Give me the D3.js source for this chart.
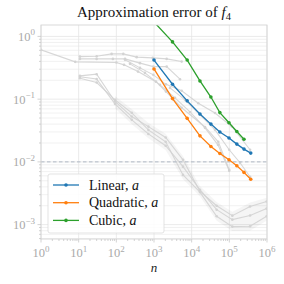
<!doctype html>
<html lang="en">
<head>
<meta charset="utf-8">
<title>Approximation error of f4</title>
<script src="https://cdn.jsdelivr.net/npm/d3@7"></script>
<style>
  body { margin: 0; background: #fff; }
  svg { display: block; font-family: "Liberation Serif", "DejaVu Serif", serif; }
  .tick-label { fill: #aaaaaa; font-size: 12.5px; }
</style>
</head>
<body>
<svg width="284" height="284"></svg>
<script>
// colored series
var nLin = [1000, 3100, 7600, 16600, 32400, 56000, 98000, 158000, 245000, 370000];
var errLinear = [0.42, 0.173, 0.094, 0.058, 0.040, 0.030, 0.024, 0.0192, 0.016, 0.0138];
var errQuadratic = [0.303, 0.102, 0.0494, 0.026, 0.0176, 0.0136, 0.0108, 0.0087, 0.0068, 0.0053];
var nCub = [1000, 3100, 7600, 16600, 32400, 56000, 98000, 158000, 245000];
var errCubic = [1.7, 0.817, 0.42, 0.195, 0.108, 0.061, 0.042, 0.0305, 0.023];

// grey background runs
var nG1 = [1, 8.1, 100, 160, 376, 1130, 2080, 5430, 22600, 50900, 99300];
var errG1 = [0.61, 0.393, 0.383, 0.352, 0.275, 0.19, 0.132, 0.073, 0.036, 0.0209, 0.0075];
var nG2 = [10.8, 30, 75, 153, 347, 923, 2170, 5430];
var errG2 = [0.477, 0.484, 0.526, 0.526, 0.467, 0.455, 0.438, 0.397];
var nG3 = [10.8, 30, 81, 170, 425, 960, 2170, 4900];
var errG3 = [0.438, 0.438, 0.438, 0.438, 0.375, 0.33, 0.33, 0.208];
var nG4 = [170, 425, 960, 2080, 5430, 15000, 41600, 116000, 355000];
var errG4 = [0.423, 0.315, 0.244, 0.172, 0.136, 0.0862, 0.060, 0.0367, 0.0156];
var nG5 = [230, 576, 1440, 3610, 9020, 22600, 50000, 99300];
var errG5 = [0.365, 0.262, 0.169, 0.105, 0.0625, 0.0349, 0.0187, 0.0072];
var nG6 = [2660, 6650, 16600, 41600, 99300, 192000, 355000];
var errG6 = [0.151, 0.0975, 0.0563, 0.0324, 0.0156, 0.0097, 0.0058];

var nLow = [10.8, 30, 92, 257, 708, 2040, 5890, 16600, 46100, 120000, 355000, 980000];
var errL1 = [0.235, 0.25, 0.0917, 0.0528, 0.0365, 0.0245, 0.0108, 0.00338, 0.002, 0.00139, 0.00195, 0.00234];
var errL2 = [0.216, 0.184, 0.0975, 0.0605, 0.0324, 0.0209, 0.0062, 0.0033, 0.00136, 0.00093, 0.00094, 0.00136];
var errL3 = [0.227, 0.209, 0.0842, 0.0468, 0.0279, 0.0181, 0.0084, 0.0036, 0.00173, 0.0012, 0.0014, 0.0018];

var threshold = 0.01;
var xDecades = [0, 1, 2, 3, 4, 5, 6];
var yDecades = [-3, -2, -1, 0];
var legendLabels = ["Linear", "Quadratic", "Cubic"];
var colors = ["#1f77b4", "#ff7f0e", "#2ca02c"];

var margin = { top: 25, right: 17, bottom: 45, left: 41 };
var svg = d3.select("svg");
var width = +svg.attr("width") - margin.left - margin.right;
var height = +svg.attr("height") - margin.top - margin.bottom;
var g = svg.append("g").attr("transform", "translate(" + margin.left + "," + margin.top + ")");

var x = d3.scaleLog().domain([1, 1e6]).range([0, width]);
var y = d3.scaleLog().domain([5.9e-4, 1.52]).range([height, 0]);

svg.append("defs").append("clipPath").attr("id", "clip")
    .append("rect").attr("width", width).attr("height", height);

// minor values
var xMinor = [], yMinor = [];
xDecades.forEach(function (e) { for (var k = 2; k < 10; k++) { if (e < 6) xMinor.push(k * Math.pow(10, e)); } });
[-4, -3, -2, -1, 0].forEach(function (e) {
    for (var k = 2; k < 10; k++) {
        var v = k * Math.pow(10, e);
        if (v > y.domain()[0] && v < y.domain()[1]) yMinor.push(v);
    }
});

// grid
var grid = g.append("g");
grid.selectAll(".hm").data(yMinor).enter().append("line")
    .attr("x1", 0).attr("x2", width)
    .attr("y1", function (d) { return y(d); }).attr("y2", function (d) { return y(d); })
    .attr("stroke", "#eeeeee").attr("stroke-width", 0.8);
grid.selectAll(".hM").data(yDecades).enter().append("line")
    .attr("x1", 0).attr("x2", width)
    .attr("y1", function (d) { return y(Math.pow(10, d)); }).attr("y2", function (d) { return y(Math.pow(10, d)); })
    .attr("stroke", "#e4e4e4").attr("stroke-width", 0.8);
grid.selectAll(".vM").data(xDecades).enter().append("line")
    .attr("y1", 0).attr("y2", height)
    .attr("x1", function (d) { return x(Math.pow(10, d)); }).attr("x2", function (d) { return x(Math.pow(10, d)); })
    .attr("stroke", "#e4e4e4").attr("stroke-width", 0.8);

var plot = g.append("g").attr("clip-path", "url(#clip)");

var line = d3.line()
    .x(function (d) { return x(d[0]); })
    .y(function (d) { return y(d[1]); });

function zip(a, b) { return a.map(function (v, i) { return [v, b[i]]; }); }

// shaded band around the lower runs
var bandData = nLow.map(function (n, i) {
    var vals = [errL1[i], errL2[i], errL3[i]];
    return { n: n, lo: d3.min(vals) * 0.85, hi: d3.max(vals) * 1.15 };
});
plot.append("path")
    .datum(bandData.slice(2))
    .attr("fill", "#000").attr("fill-opacity", 0.04)
    .attr("d", d3.area()
        .x(function (d) { return x(d.n); })
        .y0(function (d) { return y(d.lo); })
        .y1(function (d) { return y(d.hi); }));

var greyRuns = [
    zip(nG1, errG1), zip(nG2, errG2), zip(nG3, errG3), zip(nG4, errG4),
    zip(nG5, errG5), zip(nG6, errG6),
    zip(nLow, errL1), zip(nLow, errL2), zip(nLow, errL3)
];

greyRuns.forEach(function (run) {
    plot.append("path").datum(run)
        .attr("fill", "none").attr("stroke", "#d3d3d3").attr("stroke-width", 1.1)
        .attr("stroke-opacity", 0.9)
        .attr("d", line);
    plot.selectAll(null).data(run).enter().append("circle")
        .attr("cx", function (d) { return x(d[0]); })
        .attr("cy", function (d) { return y(d[1]); })
        .attr("r", 1.3).attr("fill", "#d3d3d3");
});

// threshold line
plot.append("line")
    .attr("x1", 0).attr("x2", width)
    .attr("y1", y(threshold)).attr("y2", y(threshold))
    .attr("stroke", "#a9b3c1").attr("stroke-width", 0.9)
    .attr("stroke-dasharray", "3.5,2.5");

var series = [zip(nLin, errLinear), zip(nLin, errQuadratic), zip(nCub, errCubic)];
series.forEach(function (s, i) {
    plot.append("path").datum(s)
        .attr("fill", "none").attr("stroke", colors[i]).attr("stroke-width", 1.3)
        .attr("d", line);
    plot.selectAll(null).data(s).enter().append("circle")
        .attr("cx", function (d) { return x(d[0]); })
        .attr("cy", function (d) { return y(d[1]); })
        .attr("r", 1.8).attr("fill", colors[i]);
});

// frame
g.append("rect").attr("width", width).attr("height", height)
    .attr("fill", "none").attr("stroke", "#d5d5d5").attr("stroke-width", 0.9);

// ticks
var tk = g.append("g").attr("stroke", "#c8c8c8").attr("stroke-width", 0.8);
tk.selectAll(".xt").data(xDecades).enter().append("line")
    .attr("x1", function (d) { return x(Math.pow(10, d)); }).attr("x2", function (d) { return x(Math.pow(10, d)); })
    .attr("y1", height).attr("y2", height + 3.5);
tk.selectAll(".xm").data(xMinor).enter().append("line")
    .attr("x1", function (d) { return x(d); }).attr("x2", function (d) { return x(d); })
    .attr("y1", height).attr("y2", height + 2);
tk.selectAll(".yt").data(yDecades).enter().append("line")
    .attr("y1", function (d) { return y(Math.pow(10, d)); }).attr("y2", function (d) { return y(Math.pow(10, d)); })
    .attr("x1", 0).attr("x2", -3.5);
tk.selectAll(".ym").data(yMinor).enter().append("line")
    .attr("y1", function (d) { return y(d); }).attr("y2", function (d) { return y(d); })
    .attr("x1", 0).attr("x2", -2);

// tick labels
var xl = g.selectAll(".xl").data(xDecades).enter().append("text")
    .attr("class", "tick-label")
    .attr("x", function (d) { return x(Math.pow(10, d)); })
    .attr("y", height + 18)
    .attr("text-anchor", "middle");
xl.append("tspan").text("10");
xl.append("tspan").attr("dy", -5.5).attr("font-size", "9px").text(function (d) { return d; });

var yl = g.selectAll(".yl").data(yDecades).enter().append("text")
    .attr("class", "tick-label")
    .attr("x", -6)
    .attr("y", function (d) { return y(Math.pow(10, d)) + 4.5; })
    .attr("text-anchor", "end");
yl.append("tspan").text("10");
yl.append("tspan").attr("dy", -5.5).attr("font-size", "9px").text(function (d) { return d < 0 ? "\u2212" + (-d) : d; });

// axis label + title
g.append("text").attr("x", width / 2).attr("y", height + 33)
    .attr("text-anchor", "middle").attr("font-style", "italic").attr("font-size", "13px")
    .attr("fill", "#222").text("n");

var title = svg.append("text").attr("x", margin.left + width / 2).attr("y", 17)
    .attr("text-anchor", "middle").attr("font-size", "15px").attr("fill", "#111");
title.append("tspan").text("Approximation error of ");
title.append("tspan").attr("font-style", "italic").text("f");
title.append("tspan").attr("dy", 3).attr("font-size", "10.5px").text("4");

// legend
var lg = g.append("g").attr("transform", "translate(7," + (height - 65) + ")");
lg.append("rect").attr("width", 116).attr("height", 59).attr("rx", 2)
    .attr("fill", "#fff").attr("fill-opacity", 0.85)
    .attr("stroke", "#dcdcdc").attr("stroke-width", 0.8);
var items = lg.selectAll(".it").data(legendLabels).enter().append("g")
    .attr("transform", function (d, i) { return "translate(0," + (11 + i * 17.7) + ")"; });
items.append("line").attr("x1", 5).attr("x2", 31)
    .attr("stroke", function (d, i) { return colors[i]; }).attr("stroke-width", 1.3);
items.append("circle").attr("cx", 18).attr("r", 1.8)
    .attr("fill", function (d, i) { return colors[i]; });
var lt = items.append("text").attr("x", 41).attr("y", 4.5)
    .attr("font-size", "14px").attr("fill", "#111");
lt.append("tspan").text(function (d) { return d + ", "; });
lt.append("tspan").attr("font-style", "italic").text("a");
</script>
</body>
</html>
